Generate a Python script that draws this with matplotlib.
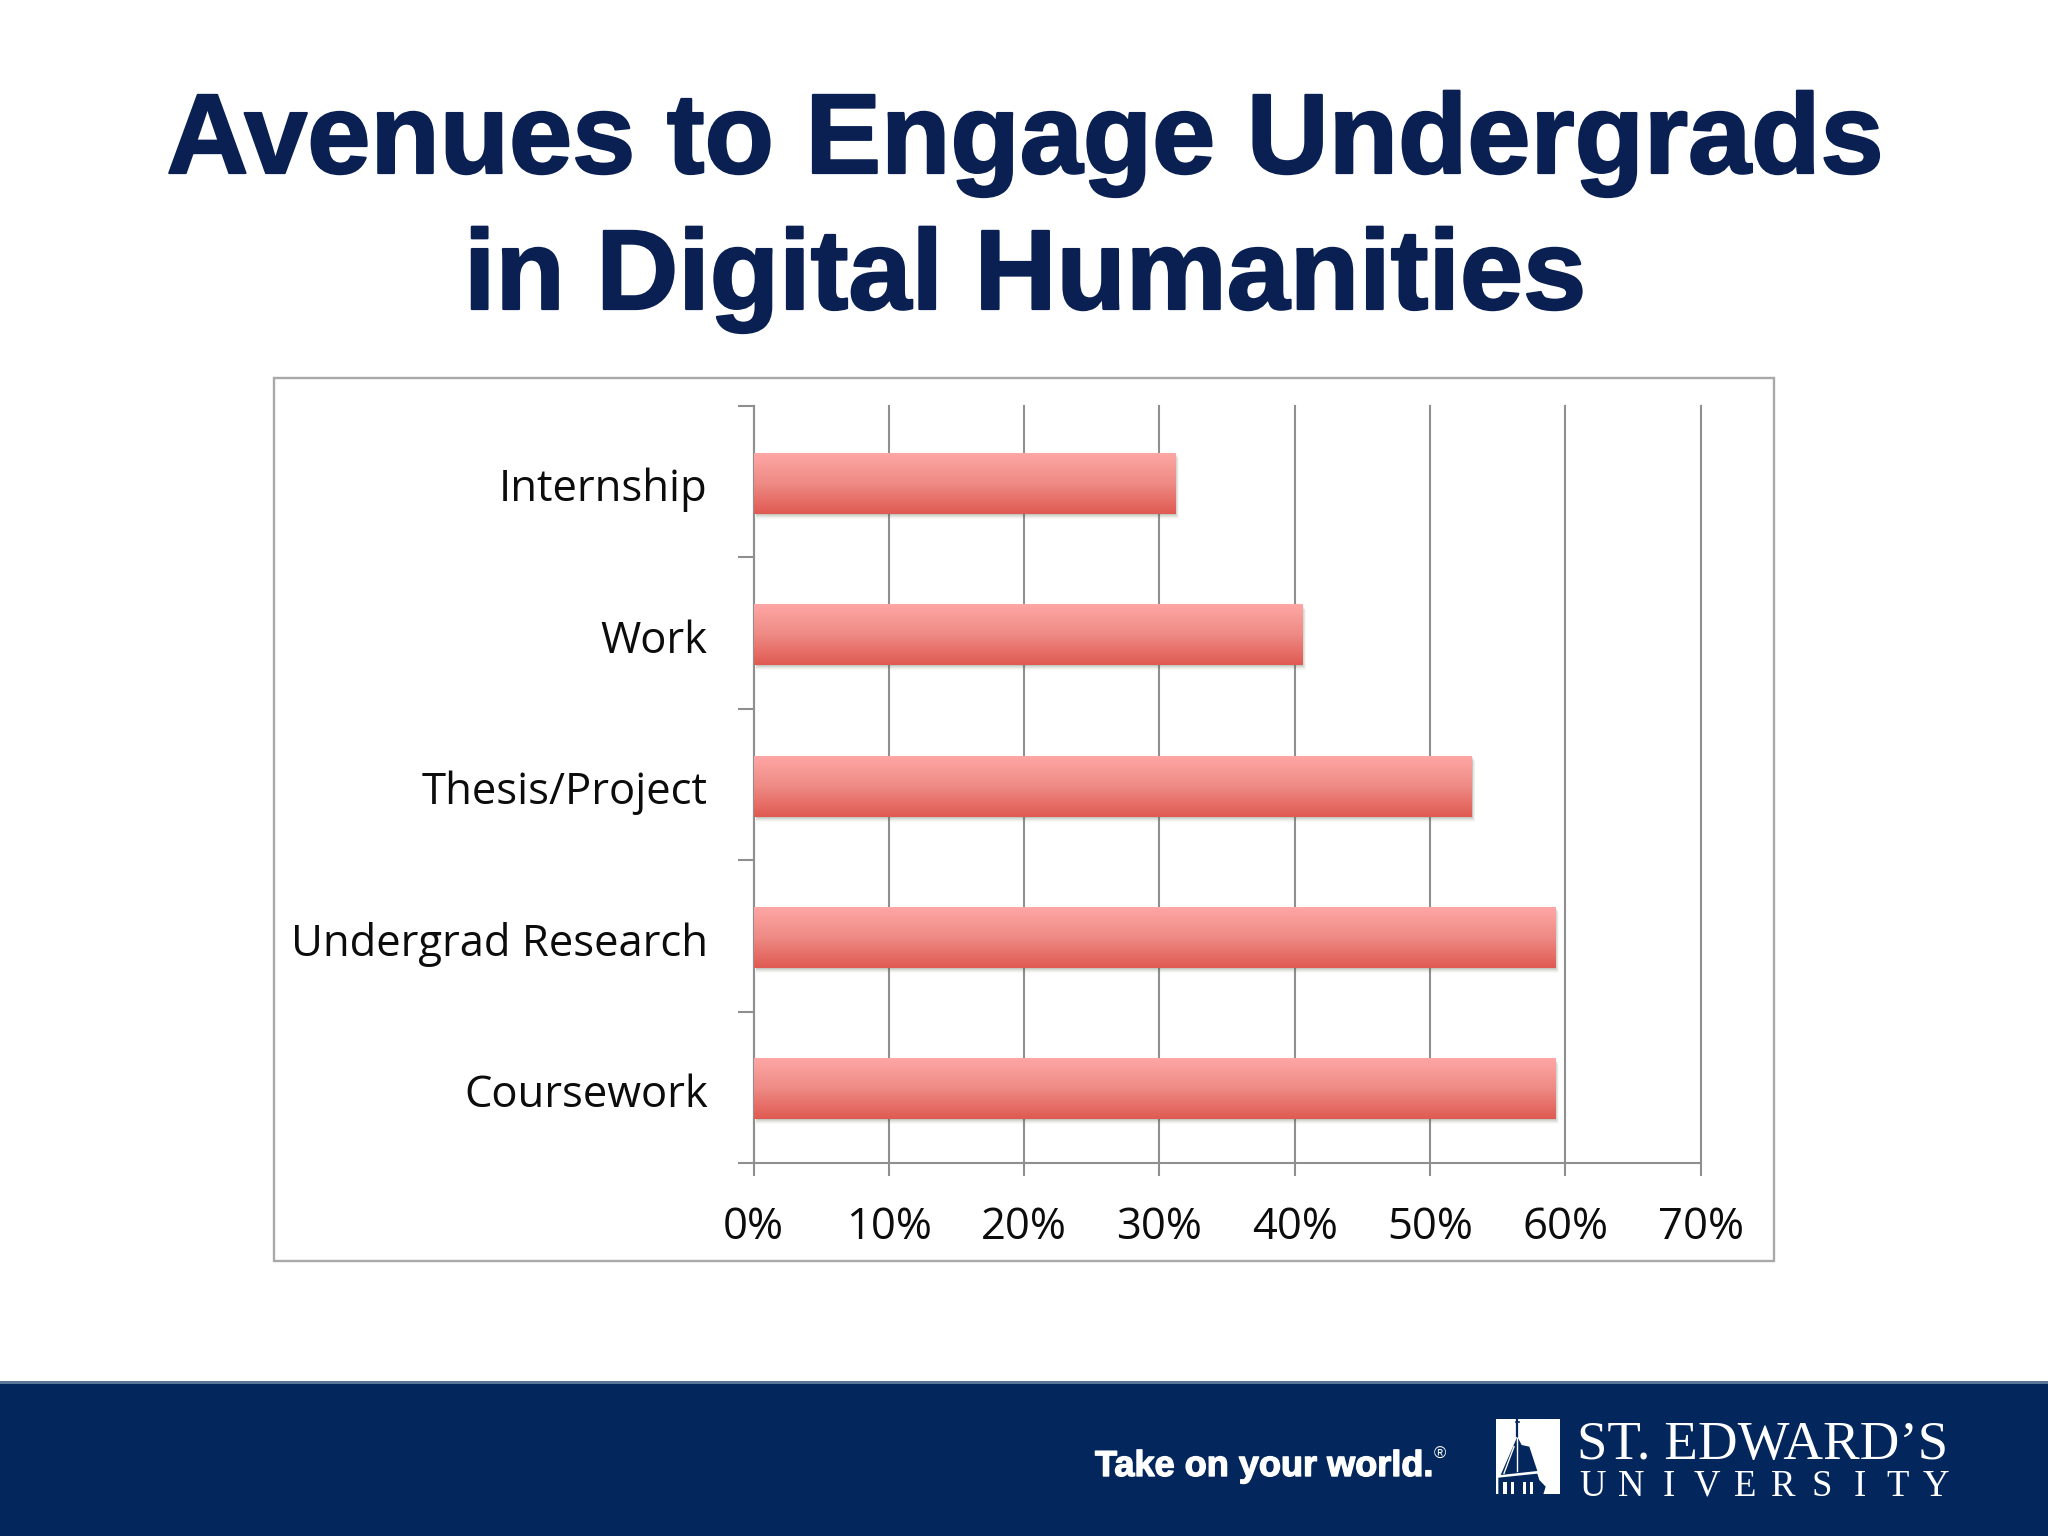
import numpy as np
import matplotlib
matplotlib.use("Agg")
import matplotlib.pyplot as plt
import matplotlib.patheffects as pe
from matplotlib.patches import Rectangle, Polygon
from matplotlib.colors import LinearSegmentedColormap
from matplotlib.transforms import ScaledTranslation

categories = ["Coursework", "Undergrad Research", "Thesis/Project", "Work", "Internship"]
values = [59.3, 59.3, 53.1, 40.6, 31.2]
xticks = [0, 10, 20, 30, 40, 50, 60, 70]
xticklabels = ["0%", "10%", "20%", "30%", "40%", "50%", "60%", "70%"]
title_lines = ["Avenues to Engage Undergrads", "in Digital Humanities"]

W, H = 2048, 1536
NAVY = "#03265c"
TITLE = "#0a2053"
GRID = "#8f8f8f"

fig = plt.figure(figsize=(W / 100, H / 100), dpi=100, facecolor="white")

bg = fig.add_axes([0, 0, 1, 1], zorder=0)
bg.set_xlim(0, W)
bg.set_ylim(H, 0)
bg.axis("off")

heavy = [pe.withStroke(linewidth=1.6, foreground=TITLE)]
bg.text(1025, 173, title_lines[0], ha="center", va="baseline", fontsize=81.7,
        fontweight="bold", family="Liberation Sans", color=TITLE, path_effects=heavy)
bg.text(1025, 309, title_lines[1], ha="center", va="baseline", fontsize=81.7,
        fontweight="bold", family="Liberation Sans", color=TITLE, path_effects=heavy)

bg.add_patch(Rectangle((273.5, 377.5), 1500, 883, fc="white", ec="#a9a9a9", lw=1.7))

# Footer
bg.add_patch(Rectangle((0, 1382), W, H - 1382, fc=NAVY, ec="none"))
bg.add_patch(Rectangle((0, 1381), W, 2.5, fc="#5a7698", ec="none"))
bg.text(1095, 1476, "Take on your world.", ha="left", va="baseline", fontsize=26,
        fontweight="bold", family="Liberation Sans", color="white",
        path_effects=[pe.withStroke(linewidth=1.0, foreground="white")])
bg.text(1440, 1454, "®", ha="center", va="center", fontsize=12,
        family="Liberation Sans", color="white")


def lg(pts):
    """Logo outline points, given in 3x coordinates relative to the logo corner."""
    return [[1480 + a / 3, 1405 + b / 3] for a, b in pts]


# Logo
bg.add_patch(Rectangle((1495.7, 1419.3), 64.5, 75, fc="white", ec="none"))
bg.add_patch(Polygon(lg([[112, 95], [62, 210], [172, 198], [148, 125], [125, 120]]),
                     fc=NAVY, ec="none"))
bg.add_patch(Polygon(lg([[55, 218], [172, 206], [178, 225], [197, 245], [190, 268], [55, 268]]),
                     fc=NAVY, ec="none"))
bg.plot(*zip(*lg([[108, 52], [116, 52]])), color=NAVY, lw=1.2)
bg.plot(*zip(*lg([[112, 45], [112, 92]])), color=NAVY, lw=1.6)
bg.plot(*zip(*lg([[102, 125], [72, 205]])), color="white", lw=1.0)
bg.plot(*zip(*lg([[112, 100], [112, 198]])), color="white", lw=1.0)
for wx in (75, 97, 133, 155):
    bg.add_patch(Rectangle((1480 + (wx - 5) / 3, 1405 + 230 / 3), 10 / 3, 38 / 3,
                           fc="white", ec="none"))

bg.text(1577, 1459, "ST. EDWARD’S", ha="left", va="baseline", fontsize=39.5,
        family="Liberation Serif", color="white")
uni = "UNIVERSITY"
uni_x = np.linspace(1593, 1936, len(uni))
for ch, ux in zip(uni, uni_x):
    bg.text(ux, 1496, ch, ha="center", va="baseline", fontsize=26.5,
            family="Liberation Serif", color="white")

# Chart
x0, x1 = 753.5, 1700.5
y0, y1 = 406.0, 1163.0
ax = fig.add_axes([x0 / W, 1 - y1 / H, (x1 - x0) / W, (y1 - y0) / H], zorder=2)
ax.patch.set_alpha(0)
ax.set_xlim(0, 70)
ax.set_ylim(-0.5, len(categories) - 0.5)
for s in ("top", "right"):
    ax.spines[s].set_visible(False)
for s in ("left", "bottom"):
    ax.spines[s].set_color(GRID)
    ax.spines[s].set_linewidth(1.5)

ax.set_xticks(xticks)
ax.set_xticklabels(xticklabels, fontsize=31.4, family="Open Sans", color="#0c0c0c")
ax.tick_params(axis="x", length=9.4, width=1.5, color=GRID, pad=21)
ax.xaxis.grid(True, color=GRID, lw=1.5, zorder=1)
for gl in ax.get_xgridlines():
    gl.set_clip_on(False)
ax.set_axisbelow(True)

ypos = np.arange(len(categories))
ax.set_yticks(ypos)
ax.set_yticklabels(categories, fontsize=31.4, family="Open Sans", color="#0c0c0c")
ax.tick_params(axis="y", length=0, pad=33)
shift = ScaledTranslation(0, -3 / 100, fig.dpi_scale_trans)
for lab in ax.get_yticklabels():
    lab.set_transform(lab.get_transform() + shift)
ax.set_yticks(np.arange(len(categories) + 1) - 0.5, minor=True)
ax.tick_params(axis="y", which="minor", length=11.5, width=1.5, color=GRID, left=True)

cmap = LinearSegmentedColormap.from_list("bar", ["#fea7a5", "#ee8a84", "#df5a52"])
grad = np.linspace(0, 1, 128).reshape(-1, 1)
bars = ax.barh(ypos - 0.012, values, height=0.40, color="#ee8a84", edgecolor="none", zorder=3)
for b in bars:
    bx, by, bw, bh = b.get_x(), b.get_y(), b.get_width(), b.get_height()
    for k, a in zip((5, 4, 3, 2, 1), (0.03, 0.05, 0.07, 0.09, 0.12)):
        ax.add_patch(Rectangle((bx + 0.15, by - k * 0.0066), bw + k * 0.05 - 0.15, bh,
                               fc="#4a5a3c", ec="none", alpha=a, zorder=2.5))
    ax.imshow(grad, cmap=cmap, extent=(bx + 0.05, bx + bw, by, by + bh), origin="upper",
              aspect="auto", zorder=4, interpolation="bilinear")
ax.set_xlim(0, 70)
ax.set_ylim(-0.5, len(categories) - 0.5)

fig.savefig("out.png", dpi=100, facecolor="white")
